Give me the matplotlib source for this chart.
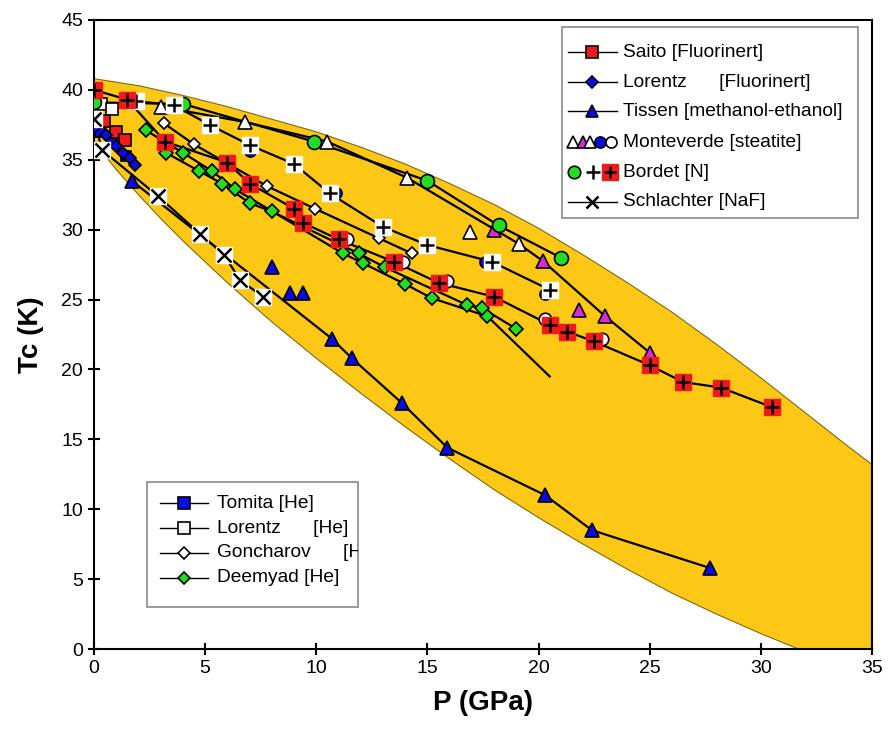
import matplotlib.pyplot as plt
import numpy as np
from matplotlib.patches import Rectangle
from matplotlib.transforms import Bbox, TransformedBbox

plt.rcParams['font.family'] = ['Liberation Sans', 'DejaVu Sans']

# shaded band enclosing all the data
band_up_p = [0, 2, 4, 6, 8, 10, 12, 14, 16, 18, 20, 22, 24, 26, 28, 30, 32, 34, 35]
band_up_tc = [40.8, 40.3, 39.6, 38.8, 37.9, 37.0, 35.9, 34.7, 33.3, 31.8, 30.1,
              28.2, 26.2, 24.1, 21.8, 19.4, 16.9, 14.4, 13.2]
band_lo_p = [0, 1, 2, 3, 4, 5, 6, 7, 8, 10, 12, 14, 16, 18, 20, 22, 24, 26, 28,
             30, 32, 34, 35]
band_lo_tc = [36.3, 34.3, 32.5, 30.8, 29.2, 27.7, 26.2, 24.8, 23.4, 20.8, 18.3,
              15.9, 13.6, 11.4, 9.4, 7.5, 5.7, 4.0, 2.5, 1.1, -0.2, -1.4, -2.0]

# Saito [Fluorinert]
saito_p = [0.45, 1.0, 1.4]
saito_tc = [37.8, 37.0, 36.4]

# Lorentz [Fluorinert]
lorfl_p = [0.0, 0.55, 1.0, 1.3, 1.6, 1.85]
lorfl_tc = [37.3, 36.8, 36.0, 35.5, 35.1, 34.6]

# Tissen [methanol-ethanol]
tissen_p = [1.7, 10.7, 11.6, 13.85, 15.9, 20.3, 22.4, 27.7]
tissen_tc = [33.5, 22.2, 20.8, 17.6, 14.4, 11.0, 8.5, 5.8]
tissen2_p = [8.0, 8.8, 9.4]
tissen2_tc = [27.3, 25.5, 25.5]

# Monteverde [steatite]
mv_p = [3.0, 6.8, 10.5, 14.1, 19.1, 20.2, 23.0, 25.0]
mv_tc = [38.8, 37.7, 36.3, 33.7, 29.0, 27.75, 23.8, 21.2]
mv_kind = ['w', 'w', 'w', 'w', 'w', 'm', 'm', 'm']
mv_tri_w_p = [16.9]
mv_tri_w_tc = [29.8]
mv_tri_m_p = [18.0, 21.8]
mv_tri_m_tc = [30.0, 24.25]
mv_circ_b_p = [7.0, 10.9, 17.6, 20.3]
mv_circ_b_tc = [35.6, 32.6, 27.7, 25.4]
mv_circ_w_p = [11.4, 13.9, 15.9, 20.3, 22.85]
mv_circ_w_tc = [29.3, 27.7, 26.3, 23.6, 22.2]

# Bordet [N]
bord_g_p = [0.0, 4.0, 9.9, 15.0, 18.2, 21.0]
bord_g_tc = [39.1, 39.0, 36.3, 33.5, 30.3, 28.0]
bord_w_p = [1.9, 3.6, 5.2, 7.0, 9.0, 10.6, 13.0, 15.0, 17.9, 20.5]
bord_w_tc = [39.2, 38.9, 37.5, 36.05, 34.7, 32.6, 30.2, 28.9, 27.7, 25.7]
bord_r_p = [0.0, 1.5, 3.2, 6.0, 7.0, 9.0, 9.4, 11.0, 13.5, 15.5, 18.0, 20.5,
            21.3, 22.5, 25.0, 26.5, 28.2, 30.5]
bord_r_tc = [40.0, 39.3, 36.3, 34.8, 33.3, 31.5, 30.5, 29.3, 27.7, 26.2, 25.2,
             23.2, 22.7, 22.0, 20.3, 19.1, 18.7, 17.3]

# Schlachter [NaF]
schl_p = [0.0, 0.36, 2.88, 4.77, 5.85, 6.57, 7.6]
schl_tc = [37.9, 35.7, 32.4, 29.7, 28.2, 26.4, 25.2]

# helium runs
tomita_p = [0.25, 0.8, 1.45]
tomita_tc = [37.0, 36.2, 35.3]
lorhe_p = [0.3, 0.8]
lorhe_tc = [39.0, 38.6]
gonch_p = [3.15, 4.5, 7.8, 9.94, 12.8, 14.3]
gonch_tc = [37.6, 36.1, 33.1, 31.5, 29.4, 28.3]
deem_a_p = [2.34, 4.0, 5.3, 6.34, 11.2, 12.1, 14.0, 15.2, 17.7, 20.5]
deem_a_tc = [37.1, 35.5, 34.2, 32.9, 28.3, 27.6, 26.1, 25.1, 23.8, 19.5]
deem_b_p = [3.24, 4.72, 5.76, 7.0, 8.0, 11.9, 13.1, 16.8, 17.45, 19.0]
deem_b_tc = [35.5, 34.2, 33.3, 31.9, 31.3, 28.3, 27.3, 24.6, 24.4, 22.9]

RED = '#f01a1a'
BLUE = '#0a0ae6'
GREEN = '#22dd22'
MAG = '#d82ad8'
YEL = '#fdc716'

fig = plt.figure(figsize=(8.89, 7.43), dpi=100)
ax = fig.add_axes([94 / 889, 1 - 649 / 743, 778 / 889, 629 / 743])

ax.fill(np.r_[band_up_p, band_lo_p[::-1]], np.r_[band_up_tc, band_lo_tc[::-1]],
        facecolor=YEL, edgecolor='#7d6a10', lw=0.8, zorder=1)


def line(p, tc, **kw):
    ax.plot(p, tc, '-', color='k', lw=1.6, zorder=2, **kw)


def marks(p, tc, marker, fc, ms, z=3, ec='k', mew=1.2):
    ax.plot(p, tc, ls='none', marker=marker, mfc=fc, mec=ec, ms=ms, mew=mew,
            zorder=z)


def boxed(p, tc, fc, sym, z=4):
    # square tile with a cross on top of it
    ax.plot(p, tc, ls='none', marker='s', mfc=fc, mec=fc, ms=11.5, zorder=z)
    ax.plot(p, tc, ls='none', marker=sym, color='k', ms=9.5, mew=1.8, zorder=z)


# connecting lines
for p, tc in [(saito_p, saito_tc), (lorfl_p, lorfl_tc), (tissen_p, tissen_tc),
              (mv_p, mv_tc), (bord_g_p, bord_g_tc), (bord_w_p, bord_w_tc),
              (bord_r_p, bord_r_tc), (schl_p, schl_tc), (tomita_p, tomita_tc),
              (gonch_p, gonch_tc), (deem_a_p, deem_a_tc), (deem_b_p, deem_b_tc)]:
    line(p, tc)

# markers
marks(tomita_p, tomita_tc, 's', BLUE, 7)
marks(lorhe_p, lorhe_tc, 's', 'white', 8)
marks(saito_p, saito_tc, 's', RED, 8)
marks(lorfl_p, lorfl_tc, 'D', BLUE, 6.5)
marks(tissen_p, tissen_tc, '^', BLUE, 10)
marks(tissen2_p, tissen2_tc, '^', BLUE, 10)
marks(mv_circ_b_p, mv_circ_b_tc, 'o', BLUE, 8)
marks(mv_circ_w_p, mv_circ_w_tc, 'o', 'white', 9)
mv_kind = np.array(mv_kind)
marks(np.array(mv_p)[mv_kind == 'w'], np.array(mv_tc)[mv_kind == 'w'], '^', 'white', 10)
marks(np.array(mv_p)[mv_kind == 'm'], np.array(mv_tc)[mv_kind == 'm'], '^', MAG, 10)
marks(mv_tri_w_p, mv_tri_w_tc, '^', 'white', 10)
marks(mv_tri_m_p, mv_tri_m_tc, '^', MAG, 10)
marks(bord_g_p, bord_g_tc, 'o', GREEN, 10)
marks(gonch_p, gonch_tc, 'D', 'white', 6.5)
marks(deem_a_p[:-1], deem_a_tc[:-1], 'D', GREEN, 7)
marks(deem_b_p, deem_b_tc, 'D', GREEN, 7)
boxed(bord_w_p, bord_w_tc, 'white', '+')
boxed(bord_r_p, bord_r_tc, RED, '+')
boxed(schl_p, schl_tc, 'white', 'x')

ax.set_xlim(0, 35)
ax.set_ylim(0, 45)
ax.set_xticks(range(0, 36, 5))
ax.set_yticks(range(0, 46, 5))
ax.tick_params(direction='inout', length=9, width=1.5, labelsize=14)
for s in ax.spines.values():
    s.set_linewidth(1.5)
ax.set_xlabel('P (GPa)', fontsize=20, fontweight='bold', labelpad=9)
ax.set_ylabel('Tc (K)', fontsize=20, fontweight='bold', labelpad=12)


# hand-built legends
def frame(x0, y0, x1, y1):
    r = Rectangle((x0, y0), x1 - x0, y1 - y0, transform=ax.transAxes,
                  facecolor='white', edgecolor='#8a8a8a', lw=1.2, zorder=10)
    ax.add_patch(r)
    return TransformedBbox(Bbox([[x0, y0], [x1, y1]]), ax.transAxes)


def key(x, y, marker, fc, ms, ec='k', mew=1.2):
    ax.plot([x], [y], transform=ax.transAxes, ls='none', marker=marker, mfc=fc,
            mec=ec, ms=ms, mew=mew, zorder=12, clip_on=False)


def key_line(x0, x1, y):
    ax.plot([x0, x1], [y, y], transform=ax.transAxes, color='k', lw=1.0,
            zorder=11, clip_on=False)


def label(x, y, s, clip=None):
    t = ax.text(x, y, s, transform=ax.transAxes, fontsize=13.8, va='center',
                ha='left', zorder=12)
    if clip is not None:
        t.set_clip_on(True)
        t.set_clip_box(clip)
    return t


frame(0.6015, 0.685, 0.982, 0.989)
rows = [0.949, 0.901, 0.855, 0.806, 0.758, 0.711]
lx0, lx1, lm, tx = 0.609, 0.672, 0.640, 0.680
key_line(lx0, lx1, rows[0]); key(lm, rows[0], 's', RED, 8)
label(tx, rows[0], 'Saito [Fluorinert]')
key_line(lx0, lx1, rows[1]); key(lm, rows[1], 'D', BLUE, 6.5)
label(tx, rows[1], 'Lorentz      [Fluorinert]')
key_line(lx0, lx1, rows[2]); key(lm, rows[2], '^', BLUE, 9)
label(tx, rows[2], 'Tissen [methanol-ethanol]')
key(0.616, rows[3], '^', 'white', 9)
key(0.628, rows[3], '^', MAG, 8)
key(0.637, rows[3], '^', 'white', 9)
key(0.651, rows[3], 'o', BLUE, 8)
key(0.665, rows[3], 'o', 'white', 8)
label(tx, rows[3], 'Monteverde [steatite]')
key(0.617, rows[4], 'o', GREEN, 9)
key(0.641, rows[4], '+', 'k', 10, mew=1.8)
ax.plot([0.663], [rows[4]], transform=ax.transAxes, ls='none', marker='s',
        mfc=RED, mec=RED, ms=11, zorder=12, clip_on=False)
key(0.663, rows[4], '+', 'k', 9, mew=1.8)
label(tx, rows[4], 'Bordet [N]')
key_line(lx0, lx1, rows[5]); key(lm, rows[5], 'x', 'k', 9, mew=1.8)
label(tx, rows[5], 'Schlachter [NaF]')

box = frame(0.068, 0.067, 0.339, 0.265)
rows2 = [0.232, 0.192, 0.153, 0.113]
bx0, bx1, bm, btx = 0.085, 0.147, 0.116, 0.158
items = [('Tomita [He]', 's', BLUE, 8), ('Lorentz      [He]', 's', 'white', 8),
         ('Goncharov      [He]', 'D', 'white', 6.5), ('Deemyad [He]', 'D', GREEN, 6.5)]
for y, (s, m, fc, ms) in zip(rows2, items):
    key_line(bx0, bx1, y)
    key(bm, y, m, fc, ms)
    label(btx, y, s, clip=box)

fig.savefig('out.png', dpi=100)
